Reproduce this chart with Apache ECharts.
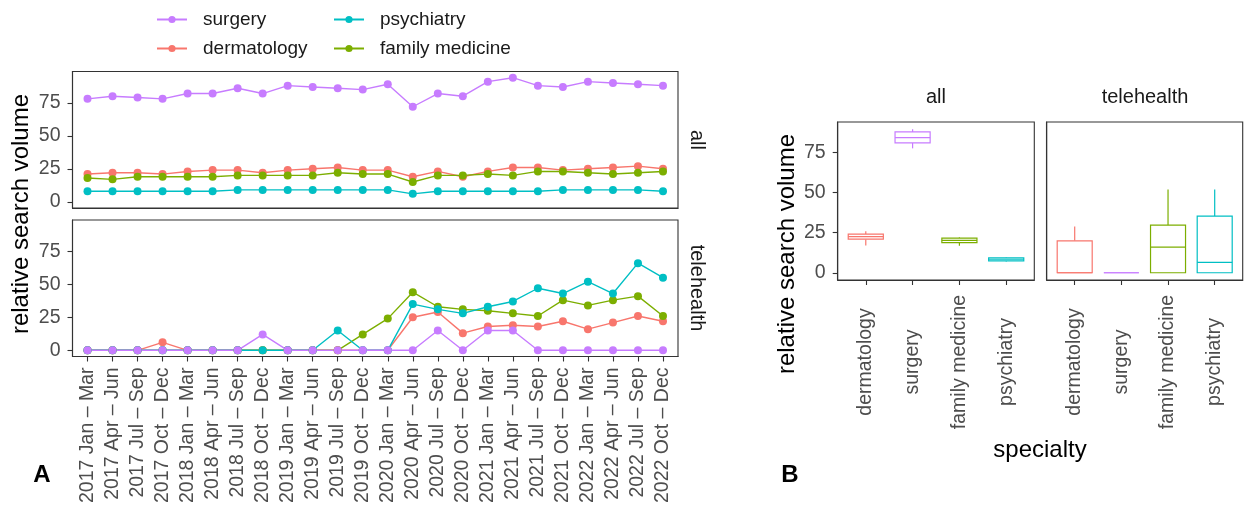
<!DOCTYPE html>
<html>
<head>
<meta charset="utf-8">
<script src="https://cdn.jsdelivr.net/npm/echarts@6/dist/echarts.min.js"></script>
<style>
html, body { margin: 0; padding: 0; background: #fff; }
#chart { width: 1249px; height: 513px; }
</style>
</head>
<body>
<div id="chart"></div>
<script>
// quarter labels on the x axis of panel A
var quarters = [
    '2017 Jan – Mar', '2017 Apr – Jun', '2017 Jul – Sep', '2017 Oct – Dec',
    '2018 Jan – Mar', '2018 Apr – Jun', '2018 Jul – Sep', '2018 Oct – Dec',
    '2019 Jan – Mar', '2019 Apr – Jun', '2019 Jul – Sep', '2019 Oct – Dec',
    '2020 Jan – Mar', '2020 Apr – Jun', '2020 Jul – Sep', '2020 Oct – Dec',
    '2021 Jan – Mar', '2021 Apr – Jun', '2021 Jul – Sep', '2021 Oct – Dec',
    '2022 Jan – Mar', '2022 Apr – Jun', '2022 Jul – Sep', '2022 Oct – Dec'
];
var specialties = ['dermatology', 'surgery', 'family medicine', 'psychiatry'];
var yTicks = [0, 25, 50, 75];

// panel A, facet "all"
var surgeryAll     = [78, 80, 79, 78, 82, 82, 86, 82, 88, 87, 86, 85, 89, 72, 82, 80, 91, 94, 88, 87, 91, 90, 89, 88];
var dermatologyAll = [21, 22, 22, 21, 23, 24, 24, 22, 24, 25, 26, 24, 24, 19, 23, 19, 23, 26, 26, 24, 25, 26, 27, 25];
var familyAll      = [18, 17, 19, 19, 19, 19, 20, 20, 20, 20, 22, 21, 21, 15, 20, 20, 21, 20, 23, 23, 22, 21, 22, 23];
var psychiatryAll  = [8, 8, 8, 8, 8, 8, 9, 9, 9, 9, 9, 9, 9, 6, 8, 8, 8, 8, 8, 9, 9, 9, 9, 8];

// panel A, facet "telehealth"
var surgeryTele     = [0, 0, 0, 0, 0, 0, 0, 12, 0, 0, 0, 0, 0, 0, 15, 0, 15, 15, 0, 0, 0, 0, 0, 0];
var dermatologyTele = [0, 0, 0, 6, 0, 0, 0, 0, 0, 0, 0, 0, 0, 25, 29, 13, 18, 19, 18, 22, 16, 21, 26, 22];
var familyTele      = [0, 0, 0, 0, 0, 0, 0, 0, 0, 0, 0, 12, 24, 44, 33, 31, 30, 28, 26, 38, 34, 38, 41, 26];
var psychiatryTele  = [0, 0, 0, 0, 0, 0, 0, 0, 0, 0, 15, 0, 0, 35, 31, 28, 33, 37, 47, 43, 52, 43, 66, 55];

// panel B boxes: [lower whisker, Q1, median, Q3, upper whisker], in specialties order
var boxAll = [
    [17, 20.9, 22.5, 24.1, 25.9],
    [77.4, 80.8, 84.1, 87.6, 89.3],
    [16.8, 18.7, 20.1, 21.6, 22],
    [7, 7.4, 8.4, 9.3, 9.6]
];
var boxTele = [
    [0, 0, 0, 19.9, 28.8],
    [0, 0, 0, 0, 0],
    [0, 0, 16, 29.6, 51.8],
    [0, 0, 6.5, 35.2, 51.8]
];

var colors = {
    'surgery': '#C77CFF',
    'dermatology': '#F8766D',
    'psychiatry': '#00BFC4',
    'family medicine': '#7CAE00'
};
var font = '"Liberation Sans", Arial, Helvetica, sans-serif';
var grey30 = '#4D4D4D';
var tickFont = 19.5;
var idx = quarters.map(function (q, i) { return i; });

function pairs(arr) {
    return arr.map(function (v, i) { return [i, v]; });
}

function panelGrid(left, top, width, height) {
    return {
        left: left, top: top, width: width, height: height,
        show: true, borderColor: '#333', borderWidth: 1.1,
        backgroundColor: 'transparent', containLabel: false,
        outerBoundsMode: 'none'
    };
}

var edge = { show: true, onZero: false, lineStyle: { color: '#333', width: 1.1 } };
var tickStyle = { color: '#333', width: 1.1 };

function quarterAxis(gi, labels) {
    return {
        type: 'value', gridIndex: gi, min: -0.6, max: 23.6,
        splitLine: { show: false }, axisLine: edge,
        axisTick: { show: labels, inside: false, customValues: idx, length: 5, lineStyle: tickStyle },
        axisLabel: {
            show: labels, customValues: idx, rotate: 90, margin: 11,
            fontSize: tickFont, color: grey30, fontFamily: font,
            formatter: function (v) { return quarters[Math.round(v)]; }
        }
    };
}

function specialtyAxis(gi) {
    return {
        type: 'value', gridIndex: gi, min: -0.6, max: 3.6,
        splitLine: { show: false }, axisLine: edge,
        axisTick: { show: true, inside: false, customValues: [0, 1, 2, 3], length: 5, lineStyle: tickStyle },
        axisLabel: {
            show: true, customValues: [0, 1, 2, 3], rotate: 90, margin: 82,
            align: 'center', verticalAlign: 'middle',
            fontSize: tickFont, color: grey30, fontFamily: font,
            formatter: function (v) { return specialties[Math.round(v)]; }
        }
    };
}

function volumeAxis(gi, min, max, labels) {
    return {
        type: 'value', gridIndex: gi, min: min, max: max,
        splitLine: { show: false }, axisLine: edge,
        axisTick: { show: labels, inside: false, customValues: yTicks, length: 5, lineStyle: tickStyle },
        axisLabel: { show: labels, customValues: yTicks, margin: 12, fontSize: tickFont, color: grey30, fontFamily: font }
    };
}

function lineSeries(name, arr, gi) {
    return {
        name: name, type: 'line', xAxisIndex: gi, yAxisIndex: gi,
        data: pairs(arr), symbol: 'circle', symbolSize: 8,
        itemStyle: { color: colors[name] },
        lineStyle: { color: colors[name], width: 1.4 },
        emphasis: { disabled: true }
    };
}

function boxSeries(stats, gi) {
    return {
        type: 'custom', xAxisIndex: gi, yAxisIndex: gi,
        data: stats.map(function (s, i) { return [i].concat(s); }),
        encode: { x: 0, y: [1, 2, 3, 4, 5] },
        renderItem: function (params, api) {
            var x = api.value(0);
            var c = colors[specialties[x]];
            var half = api.size([0.75, 0])[0] / 2;
            var lo = api.coord([x, api.value(1)]);
            var q1 = api.coord([x, api.value(2)]);
            var med = api.coord([x, api.value(3)]);
            var q3 = api.coord([x, api.value(4)]);
            var hi = api.coord([x, api.value(5)]);
            var st = { stroke: c, fill: 'none', lineWidth: 1.2 };
            return {
                type: 'group',
                children: [
                    { type: 'line', shape: { x1: lo[0], y1: lo[1], x2: q1[0], y2: q1[1] }, style: st },
                    { type: 'line', shape: { x1: q3[0], y1: q3[1], x2: hi[0], y2: hi[1] }, style: st },
                    { type: 'rect', shape: { x: q3[0] - half, y: q3[1], width: half * 2, height: q1[1] - q3[1] },
                      style: { stroke: c, fill: '#fff', lineWidth: 1.2 } },
                    { type: 'line', shape: { x1: med[0] - half, y1: med[1], x2: med[0] + half, y2: med[1] }, style: st }
                ]
            };
        }
    };
}

function label(text, x, y, size, rot, extra) {
    var s = { text: text, fontSize: size, fontFamily: font, fill: '#000',
              textAlign: 'center', textVerticalAlign: 'middle', verticalAlign: 'middle' };
    for (var k in extra) s[k] = extra[k];
    return { type: 'text', x: x, y: y, rotation: rot, style: s, silent: true };
}

var legendBase = {
    orient: 'vertical', top: 5, itemWidth: 30, itemHeight: 9, itemGap: 10,
    selectedMode: false,
    textStyle: { fontSize: 19, color: '#1a1a1a', fontFamily: font, padding: [0, 0, 0, 11] }
};

var myChart = echarts.init(document.getElementById('chart'), null, { renderer: 'canvas' });
var option = {
    animation: false,
    backgroundColor: '#fff',
    legend: [
        Object.assign({}, legendBase, { left: 151, data: ['surgery', 'dermatology'] }),
        Object.assign({}, legendBase, { left: 328, data: ['psychiatry', 'family medicine'] })
    ],
    grid: [
        panelGrid(72.5, 71.5, 605.5, 136.5),
        panelGrid(72.5, 220, 605.5, 136.5),
        panelGrid(837.7, 122, 196.6, 158),
        panelGrid(1046.7, 122, 196, 158)
    ],
    xAxis: [
        quarterAxis(0, false),
        quarterAxis(1, true),
        specialtyAxis(2),
        specialtyAxis(3)
    ],
    yAxis: [
        volumeAxis(0, -4.7, 98.7, true),
        volumeAxis(1, -4.7, 98.7, true),
        volumeAxis(2, -4.5, 93.8, true),
        volumeAxis(3, -4.5, 93.8, false)
    ],
    series: [
        lineSeries('dermatology', dermatologyAll, 0),
        lineSeries('family medicine', familyAll, 0),
        lineSeries('psychiatry', psychiatryAll, 0),
        lineSeries('surgery', surgeryAll, 0),
        lineSeries('dermatology', dermatologyTele, 1),
        lineSeries('family medicine', familyTele, 1),
        lineSeries('psychiatry', psychiatryTele, 1),
        lineSeries('surgery', surgeryTele, 1),
        boxSeries(boxAll, 2),
        boxSeries(boxTele, 3)
    ],
    graphic: [
        label('relative search volume', 21, 214, 24, Math.PI / 2),
        label('relative search volume', 787, 254, 24, Math.PI / 2),
        label('all', 697, 140, 20, -Math.PI / 2, { fill: '#1a1a1a' }),
        label('telehealth', 697, 288, 20, -Math.PI / 2, { fill: '#1a1a1a' }),
        label('all', 936, 97, 20, 0, { fill: '#1a1a1a' }),
        label('telehealth', 1145, 97, 20, 0, { fill: '#1a1a1a' }),
        label('specialty', 1040, 450, 24, 0),
        label('A', 42, 475, 24, 0, { fontWeight: 'bold' }),
        label('B', 790, 475, 24, 0, { fontWeight: 'bold' })
    ]
};
myChart.setOption(option);
</script>
</body>
</html>
